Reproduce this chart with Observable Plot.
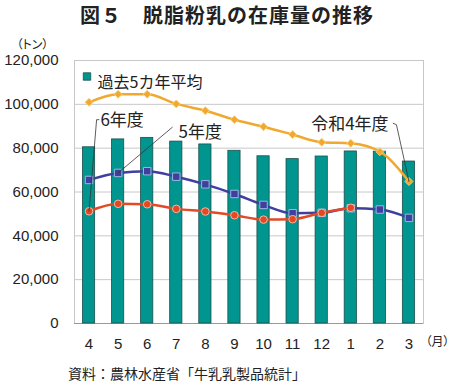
<!DOCTYPE html>
<html><head><meta charset="utf-8">
<script src="https://cdn.jsdelivr.net/npm/d3@7"></script>
<script src="https://cdn.jsdelivr.net/npm/@observablehq/plot@0.6"></script>
<style>
body{margin:0;background:#fff;width:450px;height:384px;overflow:hidden;font-family:"Noto Sans CJK JP",sans-serif;}
#title{height:30px;line-height:30px;font-size:20px;font-weight:bold;text-align:center;padding-left:4px;letter-spacing:1px;color:#222;}
#cap{height:24px;line-height:24px;font-size:14px;padding-left:68px;padding-top:1px;color:#222;}
svg{display:block;}
</style></head>
<body>
<div id="title">図５　脱脂粉乳の在庫量の推移</div>
<div id="chart"></div>
<div id="cap">資料：農林水産省「牛乳乳製品統計」</div>
<script>
const months = ["4","5","6","7","8","9","10","11","12","1","2","3"];
const avg5 = [80400, 84000, 84700, 83000, 81700, 78800, 76300, 75000, 76200, 78500, 78400, 73900];
const r4 = [100900, 104600, 104600, 100200, 97100, 93000, 89800, 86200, 82700, 82200, 78400, 64800];
const r5 = [65500, 68700, 69500, 67000, 63500, 59100, 54100, 50300, 50500, 52600, 52000, 48200];
const r6 = [51200, 54600, 54400, 52300, 51100, 49400, 47400, 47600, 50500, 52800];
const yTicks = [0, 20000, 40000, 60000, 80000, 100000, 120000];

const labels = ["6年度", "5年度", "令和4年度"];
const labelX = [0.39, 3.08, 10.30];
const labelY = [92600, 87200, 90700];
const leaderX = [[0.34, 0.26, 0], [2.86, 1], [10.46, 10.57, 11]];
const leaderY = [[93000, 93000, 51200], [89500, 68700], [91300, 90700, 64800]];

const idx = months.map((m, i) => i);
const bars = idx.map(i => ({i, v: avg5[i]}));
const s4 = idx.map(i => ({i, v: r4[i]}));
const s5 = idx.map(i => ({i, v: r5[i]}));
const s6 = r6.map((v, i) => ({i, v}));
const annStart = [0, 1].map(k => ({t: labels[k], x: labelX[k], y: labelY[k]}));
const annEnd = [2].map(k => ({t: labels[k], x: labelX[k], y: labelY[k]}));
const leaders = leaderX.flatMap((xs, k) => xs.map((x, j) => ({k, x, y: leaderY[k][j]})));

const fontNum = "Liberation Sans, Arial, sans-serif";
const cjk = "Noto Sans CJK JP, sans-serif";

const chart = Plot.plot({
  width: 450, height: 330,
  marginTop: 30, marginBottom: 37, marginLeft: 74, marginRight: 27,
  style: {fontFamily: fontNum, background: "#fff", color: "#222"},
  x: {type: "linear", domain: [-0.5, 11.5], label: null},
  y: {domain: [0, 120000], label: null},
  marks: [
    Plot.gridY(yTicks, {stroke: "#c8c8c8", strokeOpacity: 1}),
    Plot.frame({stroke: "#c8c8c8"}),
    Plot.ruleY([0], {stroke: "#999"}),
    Plot.axisX({ticks: idx, tickFormat: i => months[i], tickSize: 0, tickPadding: 15, fontSize: 15, label: null}),
    Plot.axisY({ticks: yTicks, tickFormat: d3.format(","), tickSize: 0, tickPadding: 16, fontSize: 15, label: null}),
    Plot.rectY(bars, {x1: d => d.i - 0.21, x2: d => d.i + 0.21, y: "v", fill: "#00958f", stroke: "#1d4f4c", strokeWidth: 0.8}),
    Plot.line(s4, {x: "i", y: "v", stroke: "#f0a82e", strokeWidth: 2.5, curve: "monotone-x"}),
    Plot.dot(s4, {x: "i", y: "v", symbol: "diamond2", r: 3.6, fill: "#f0a82e", stroke: "#f7d27a", strokeWidth: 1}),
    Plot.line(s5, {x: "i", y: "v", stroke: "#3f3f9d", strokeWidth: 2.5, curve: "monotone-x"}),
    Plot.dot(s5, {x: "i", y: "v", symbol: "square", r: 4.2, fill: "#3f3f9d", stroke: "#9fb4e6", strokeWidth: 1}),
    Plot.line(s6, {x: "i", y: "v", stroke: "#e24a26", strokeWidth: 2.5, curve: "monotone-x"}),
    Plot.dot(s6, {x: "i", y: "v", symbol: "circle", r: 3.8, fill: "#e24a26", stroke: "#f6b7a2", strokeWidth: 1}),
    Plot.line(leaders, {x: "x", y: "y", z: "k", stroke: "#333", strokeWidth: 0.8}),
    Plot.text(annStart, {x: "x", y: "y", text: "t", textAnchor: "start", fontSize: 17, fontFamily: cjk, fill: "#222"}),
    Plot.text(annEnd, {x: "x", y: "y", text: "t", textAnchor: "end", fontSize: 17, fontFamily: cjk, fill: "#222"}),
    Plot.text(["（トン）"], {frameAnchor: "top-left", dx: -42, dy: -20, textAnchor: "middle", fontSize: 12, fontFamily: cjk, fill: "#222"}),
    Plot.text(["（月）"], {frameAnchor: "bottom-right", dx: 26, dy: 22, textAnchor: "end", fontSize: 12, fontFamily: cjk, fill: "#222"}),
    Plot.dot(["過去5カ年平均"], {frameAnchor: "top-left", dx: 12.5, dy: 16, symbol: "square", r: 4.2, fill: "#00958f", stroke: "#1d4f4c", strokeWidth: 0.8}),
    Plot.text(["過去5カ年平均"], {frameAnchor: "top-left", dx: 23, dy: 16, textAnchor: "start", fontSize: 16, fontFamily: cjk, fill: "#222"})
  ]
});
d3.select(chart).selectAll("text").filter(function() { return this.textContent.startsWith("（"); })
  .style("font-feature-settings", '"palt"');
document.getElementById("chart").appendChild(chart);
</script>
</body></html>
